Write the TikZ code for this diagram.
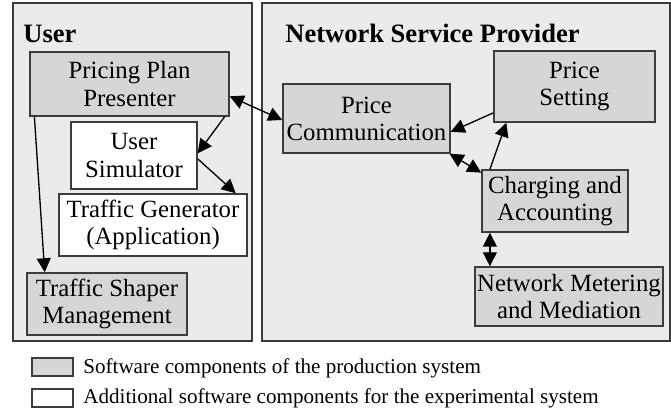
\documentclass[tikz,border=0pt]{standalone}
\usepackage{fontspec}
\setmainfont{Liberation Serif}
\usepackage{tikz}
\usetikzlibrary{calc,shapes,positioning}
\usetikzlibrary{arrows.meta}
\tikzset{>={Triangle[width=2.8mm,length=2.8mm]}}
\definecolor{areagray}{RGB}{235,235,235}
\definecolor{compgray}{RGB}{214,214,214}
\definecolor{edgegray}{RGB}{60,60,60}

\begin{document}
\begin{tikzpicture}
        \tikzstyle{area} = [draw=edgegray, line width=1.1pt, fill=areagray, rectangle, inner sep = 0pt]
        \tikzstyle{pnode} = [draw=edgegray, line width=0.85pt, fill=compgray, rectangle, inner sep = 0pt, align=center, font=\fontsize{14.1}{15.4}\selectfont]
        \tikzstyle{xnode} = [pnode, fill=white]
        \tikzstyle{link} = [line width=0.75pt, >={Triangle[width=2.8mm,length=2.8mm]}]

        \useasboundingbox (0,0) rectangle (13.42,8.28);

        % the two areas
        \node[area, minimum width=4.78cm, minimum height=6.76cm] (userarea) at (2.65,4.84) {};
        \node[area, minimum width=8.16cm, minimum height=6.76cm] (nsparea) at (9.32,4.84) {};
        \node[anchor=base west, inner sep=0pt, font=\fontsize{15.1}{17}\selectfont\bfseries] (usertitle) at (0.46,7.42) {User};
        \node[anchor=base west, inner sep=0pt, font=\fontsize{15.1}{17}\selectfont\bfseries] (nsptitle) at (5.70,7.42) {Network Service Provider};

        % user side
        \node[pnode, minimum width=3.98cm, minimum height=1.28cm] (ppp) at (2.59,6.60) {Pricing Plan\\Presenter};
        \node[xnode, minimum width=2.52cm, minimum height=1.34cm] (sim) at (2.68,5.17) {User\\Simulator};
        \node[xnode, minimum width=3.76cm, minimum height=1.24cm] (gen) at (3.06,3.78) {Traffic Generator\\(Application)};
        \node[pnode, minimum width=3.20cm, minimum height=1.24cm] (shaper) at (2.14,2.20) {Traffic Shaper\\Management};

        % provider side
        \node[pnode, minimum width=3.34cm, minimum height=1.38cm] (pcom) at (7.33,5.91) {Price\\Communication};
        \node[pnode, minimum width=3.22cm, minimum height=1.42cm] (pset) at (11.49,6.55) {Price\\Setting};
        \node[pnode, minimum width=2.92cm, minimum height=1.24cm] (charge) at (11.10,4.26) {Charging and\\Accounting};
        \node[pnode, minimum width=3.76cm, minimum height=1.18cm] (meter) at (11.38,2.35) {Network Metering\\and Mediation};

        \draw[link,<->] (ppp.-7) -- (pcom.181);
        \draw[link,->] (ppp.-19) -- (sim.2);
        \draw[link,->] (sim.-3) -- (gen.21);
        \draw[link,->] (ppp.199) -- (shaper.153);
        \draw[link,->] (pset.198) -- (pcom.-9);
        \draw[link,->] (charge.154) -- (pset.208);
        \draw[link,<->] (pcom.-23) -- (charge.159);
        \draw[link,<->] (charge.206) -- (charge.206 |- meter.north);

        % legend
        \node[pnode, minimum width=0.82cm, minimum height=0.36cm] (keyprod) at (1.05,0.94) {};
        \node[xnode, minimum width=0.82cm, minimum height=0.36cm] (keyexp) at (1.05,0.32) {};
        \node[anchor=west, inner sep=0pt, font=\fontsize{12}{14}\selectfont] (keyprodtext) at (1.66,0.91) {Software components of the production system};
        \node[anchor=west, inner sep=0pt, font=\fontsize{12}{14}\selectfont] (keyexptext) at (1.66,0.31) {Additional software components for the experimental system};
\end{tikzpicture}
\end{document}
